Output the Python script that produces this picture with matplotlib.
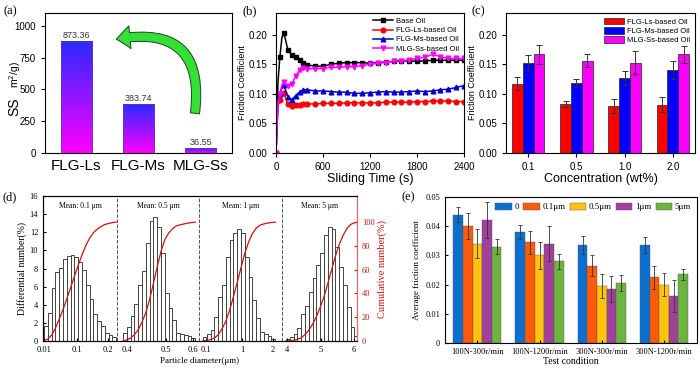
import numpy as np
import matplotlib
matplotlib.use("Agg")
import matplotlib.pyplot as plt
from matplotlib.patches import FancyArrowPatch
from matplotlib.colors import LinearSegmentedColormap

W, H = 700, 368

# (a) specific surface area
samples = ["FLG-Ls", "FLG-Ms", "MLG-Ss"]
surface = [873.36, 383.74, 36.55]

# (b) friction coefficient vs sliding time
time_s = [0, 25, 50, 75, 100, 125, 150, 200, 250, 300, 350, 400, 500, 600,
          700, 800, 900, 1000, 1100, 1200, 1300, 1400, 1500, 1600, 1700,
          1800, 1900, 2000, 2100, 2200, 2300, 2400]
base_oil = [0, 0.120, 0.163, 0.195, 0.203, 0.190, 0.175, 0.166, 0.163, 0.158,
            0.152, 0.149, 0.147, 0.147, 0.150, 0.152, 0.153, 0.153, 0.153,
            0.152, 0.153, 0.154, 0.155, 0.156, 0.156, 0.155, 0.156, 0.157,
            0.157, 0.157, 0.157, 0.157]
ls_oil = [0, 0.080, 0.090, 0.098, 0.101, 0.092, 0.083, 0.080, 0.081, 0.082,
          0.083, 0.083, 0.083, 0.084, 0.084, 0.084, 0.085, 0.085, 0.085,
          0.085, 0.085, 0.086, 0.086, 0.086, 0.086, 0.087, 0.087, 0.088,
          0.088, 0.088, 0.087, 0.087]
ms_oil = [0, 0.085, 0.100, 0.110, 0.115, 0.105, 0.095, 0.090, 0.097, 0.103,
          0.107, 0.107, 0.105, 0.105, 0.104, 0.103, 0.103, 0.101, 0.101,
          0.102, 0.103, 0.104, 0.103, 0.103, 0.104, 0.105, 0.104, 0.105,
          0.107, 0.108, 0.111, 0.114]
ss_oil = [0, 0.085, 0.100, 0.115, 0.121, 0.117, 0.114, 0.116, 0.130, 0.140,
          0.144, 0.142, 0.143, 0.143, 0.145, 0.145, 0.146, 0.146, 0.148,
          0.150, 0.152, 0.153, 0.155, 0.156, 0.158, 0.160, 0.162, 0.167,
          0.163, 0.160, 0.160, 0.160]

# (c) friction vs concentration
conc = ["0.1", "0.5", "1.0", "2.0"]
ls_mean = [0.117, 0.083, 0.080, 0.082]
ls_err = [0.011, 0.005, 0.012, 0.012]
ms_mean = [0.153, 0.118, 0.127, 0.141]
ms_err = [0.013, 0.007, 0.012, 0.015]
ss_mean = [0.167, 0.156, 0.153, 0.167]
ss_err = [0.016, 0.011, 0.019, 0.014]

# (d) particle size distributions (differential number %)
mean_labels = ["Mean: 0.1 μm", "Mean: 0.5 μm", "Mean: 1 μm", "Mean: 5 μm"]
hist_01 = [1.7, 3.1, 5.9, 7.6, 8.1, 9.0, 9.4, 9.5, 9.3, 8.7, 7.8, 6.2, 4.6,
           3.0, 2.2, 1.7, 0.9, 0.7, 0.4]
hist_05 = [0.9, 1.5, 2.8, 4.1, 6.2, 7.7, 10.8, 13.2, 13.7, 12.6, 9.7, 5.3,
           3.6, 2.3, 0.9, 0.75, 0.65, 0.5, 0.35]
hist_1 = [0.45, 0.8, 1.2, 2.7, 4.9, 6.2, 9.3, 11.1, 11.9, 12.4, 11.9, 9.3,
          7.1, 4.5, 2.5, 1.0, 0.75, 0.5, 0.25]
hist_5 = [0.25, 0.45, 0.8, 1.4, 3.0, 3.9, 5.4, 6.9, 8.4, 9.7, 11.7, 12.6,
          12.4, 10.4, 8.2, 6.2, 3.8, 1.5, 0.6]
dia_ticks = [["0.01", "0.1", "0.2"], ["0.4", "0.5", "0.6"],
             ["0.1", "1", "2"], ["4", "5", "6"]]

# (e) average friction coefficient by test condition
conditions = ["100N-300r/min", "100N-1200r/min", "300N-300r/min", "300N-1200r/min"]
sizes = ["0", "0.1μm", "0.5μm", "1μm", "5μm"]
avg_fc = [[0.0440, 0.0380, 0.0335, 0.0335],
          [0.0400, 0.0345, 0.0265, 0.0225],
          [0.0340, 0.0300, 0.0195, 0.0200],
          [0.0420, 0.0340, 0.0185, 0.0160],
          [0.0330, 0.0280, 0.0205, 0.0235]]
avg_err = [[0.0025, 0.0025, 0.0030, 0.0028],
           [0.0045, 0.0040, 0.0037, 0.0040],
           [0.0050, 0.0045, 0.0040, 0.0039],
           [0.0062, 0.0060, 0.0045, 0.0055],
           [0.0026, 0.0025, 0.0028, 0.0020]]


def rect(l, t, r, b):
    return [l / W, 1 - b / H, (r - l) / W, (b - t) / H]


sans = "Liberation Sans"
serif = "Liberation Serif"
plt.rcParams["font.family"] = sans

fig = plt.figure(figsize=(7, 3.68), dpi=100)

# ---------- (a)
ax = fig.add_axes(rect(45, 13, 232, 153))
cmap = LinearSegmentedColormap.from_list("bm", ["#ff00ff", "#2a2aff"])
grad = np.linspace(0, 1, 100).reshape(-1, 1)
for i, v in enumerate(surface):
    ax.imshow(grad, extent=[i - 0.25, i + 0.25, 0, v], cmap=cmap,
              aspect="auto", origin="lower", zorder=2)
    ax.bar(i, v, width=0.5, fill=False, edgecolor="#5040c0", lw=0.6, zorder=3)
    ax.text(i, v + 12, f"{v:.2f}", ha="center", va="bottom", fontsize=6.5,
            color="#333333")
ax.set_xlim(-0.5, 2.5)
ax.set_ylim(0, 1100)
ax.set_yticks([0, 250, 500, 750, 1000])
ax.set_xticks(range(3))
ax.set_xticklabels(samples, fontsize=11)
ax.tick_params(axis="x", length=0, pad=4)
ax.tick_params(axis="y", labelsize=7, length=3)
arrow = FancyArrowPatch((1.9, 290), (0.6, 890),
                        connectionstyle="arc3,rad=0.7",
                        arrowstyle="simple,head_length=0.9,head_width=1.5,tail_width=0.6",
                        mutation_scale=11, facecolor="#33e033",
                        edgecolor="#1f3f2f", lw=0.7, zorder=4)
ax.add_patch(arrow)
fig.text(14 / W, 1 - 107 / H, "SS", rotation=90, fontsize=10,
         ha="center", va="center")
fig.text(15 / W, 1 - 74 / H, "m$^2$/g)", rotation=90, fontsize=7.5,
         ha="center", va="center")

# ---------- (b)
ax = fig.add_axes(rect(276, 13, 464, 153))
marks = [0, 2, 4, 6] + list(range(7, len(time_s)))
ax.plot(time_s, base_oil, "-s", color="black", ms=3.2, lw=1.1,
        markevery=marks, label="Base Oil")
ax.plot(time_s, ls_oil, "-o", color="red", ms=3.4, lw=1.1,
        markevery=marks, label="FLG-Ls-based Oil")
ax.plot(time_s, ms_oil, "-^", color="#0000cc", ms=3.4, lw=1.1,
        markevery=marks, label="FLG-Ms-based Oil")
ax.plot(time_s, ss_oil, "-v", color="#ff00ff", ms=3.4, lw=1.1,
        markevery=marks, label="MLG-Ss-based Oil")
ax.set_xlim(0, 2400)
ax.set_ylim(0, 0.237)
ax.set_xticks([0, 600, 1200, 1800, 2400])
ax.set_yticks([0, 0.05, 0.10, 0.15, 0.20])
ax.yaxis.set_major_formatter(plt.FormatStrFormatter("%.2f"))
ax.tick_params(labelsize=7, length=3)
ax.set_xlabel("Sliding Time (s)", fontsize=9, labelpad=1)
ax.set_ylabel("Friction Coefficient", fontsize=6.5, labelpad=1)
ax.legend(loc="upper right", fontsize=5.5, frameon=False, handlelength=2.6,
          labelspacing=0.25, borderaxespad=0.2, handletextpad=0.4)

# ---------- (c)
ax = fig.add_axes(rect(506, 13, 695, 153))
x = np.arange(len(conc))
bw = 0.225
ek = dict(ecolor="#333333", elinewidth=0.7, capsize=2, capthick=0.7)
ax.bar(x - bw, ls_mean, bw, yerr=ls_err, color="#ff0000", edgecolor="#222222",
       lw=0.5, error_kw=ek, label="FLG-Ls-based Oil")
ax.bar(x, ms_mean, bw, yerr=ms_err, color="#0000ff", edgecolor="#222222",
       lw=0.5, error_kw=ek, label="FLG-Ms-based Oil")
ax.bar(x + bw, ss_mean, bw, yerr=ss_err, color="#ff00ff", edgecolor="#222222",
       lw=0.5, error_kw=ek, label="MLG-Ss-based Oil")
ax.set_xlim(-0.46, 3.46)
ax.set_ylim(0, 0.237)
ax.set_xticks(x)
ax.set_xticklabels(conc)
ax.set_yticks([0, 0.05, 0.10, 0.15, 0.20])
ax.yaxis.set_major_formatter(plt.FormatStrFormatter("%.2f"))
ax.tick_params(labelsize=7, length=3)
ax.set_xlabel("Concentration (wt%)", fontsize=9, labelpad=1)
ax.set_ylabel("Friction Coefficient", fontsize=6.5, labelpad=1)
ax.legend(loc="upper right", fontsize=5.5, frameon=False, handlelength=2.6,
          handleheight=1.0, labelspacing=0.15, borderaxespad=0.2,
          handletextpad=0.4)

# ---------- (d)
ax = fig.add_axes(rect(43, 196, 357, 341))
ax2 = ax.twinx()
sub_edges = [0, 74, 156, 239, 314]
bar_start = [1, 6, 4, 4]
bin_w = 3.8
tick_pos = [[1, 34, 65], [84, 123, 150], [163, 199, 230], [244, 278, 311]]
hists = [hist_01, hist_05, hist_1, hist_5]
xt, xl = [], []
for k, h in enumerate(hists):
    h = np.array(h)
    left = sub_edges[k] + bar_start[k] + bin_w * np.arange(len(h))
    ax.bar(left, h, width=bin_w, align="edge", facecolor="white",
           edgecolor="#444444", lw=0.7)
    edges = np.concatenate([[left[0]], left + bin_w])
    cum = np.concatenate([[0], np.cumsum(h)]) / h.sum() * 100
    ax2.plot(edges, cum, color="#d01010", lw=0.9)
    ax.text((sub_edges[k] + sub_edges[k + 1]) / 2, 14.9, mean_labels[k],
            ha="center", va="center", fontsize=5.5, family=serif)
    if 0 < k:
        ax.axvline(sub_edges[k], color="#555555", ls="--", lw=0.7)
    xt += tick_pos[k]
    xl += dia_ticks[k]
ax.set_xlim(0, 314)
ax.set_ylim(0, 16)
ax.set_yticks(range(0, 17, 2))
ax.set_xticks(xt)
ax.set_xticklabels(xl, family=serif)
for t in ax.get_yticklabels():
    t.set_family(serif)
ax.tick_params(labelsize=6, direction="in", length=2)
ax.set_xlabel("Particle diameter(μm)", fontsize=6.5, family=serif, labelpad=2)
ax.set_ylabel("Differential number(%)", fontsize=7, family=serif, labelpad=2)
ax2.set_ylim(0, 122)
ax2.set_yticks(range(0, 101, 20))
for t in ax2.get_yticklabels():
    t.set_family(serif)
ax2.tick_params(labelsize=6, direction="in", length=2, colors="#d01010")
ax2.spines["right"].set_color("#e07070")
ax2.set_ylabel("Cumulative number(%)", fontsize=7.5, family=serif,
               color="#d01010", labelpad=2)

# ---------- (e)
ax = fig.add_axes(rect(445, 197, 697, 343))
colors_e = ["#0a6fd0", "#ff5a0a", "#ffc20e", "#a0409a", "#6db33f"]
x = np.arange(len(conditions))
bw = 0.155
ek = dict(ecolor="#333333", elinewidth=0.6, capsize=1.5, capthick=0.6)
for j in range(len(sizes)):
    ax.bar(x + (j - 2) * bw, avg_fc[j], bw, yerr=avg_err[j],
           color=colors_e[j], edgecolor="#555555", lw=0.3, error_kw=ek,
           label=sizes[j])
ax.set_xlim(-0.52, 3.53)
ax.set_ylim(0, 0.05)
ax.set_xticks(x)
ax.set_xticklabels(conditions, family=serif)
ax.set_yticks([0, 0.01, 0.02, 0.03, 0.04, 0.05])
ax.set_yticklabels(["0", "0.01", "0.02", "0.03", "0.04", "0.05"], family=serif)
ax.tick_params(labelsize=6, direction="in", length=2)
ax.set_xlabel("Test condition", fontsize=7, family=serif, labelpad=1)
ax.set_ylabel("Average friction coefficient", fontsize=6.5, family=serif,
              labelpad=3)
ax.legend(loc="upper right", ncol=5, frameon=False,
          prop={"family": serif, "size": 6.5}, handlelength=1.8,
          handleheight=0.8, columnspacing=0.5, handletextpad=0.3,
          borderaxespad=0.25)

# panel labels
for lab, px, py in [("(a)", 10, 11), ("(b)", 250, 11), ("(c)", 478, 11),
                    ("(d)", 10, 197), ("(e)", 408, 197)]:
    fig.text(px / W, 1 - py / H, lab, fontsize=9, family=serif,
             ha="center", va="center")

fig.savefig("out.png", dpi=100)
